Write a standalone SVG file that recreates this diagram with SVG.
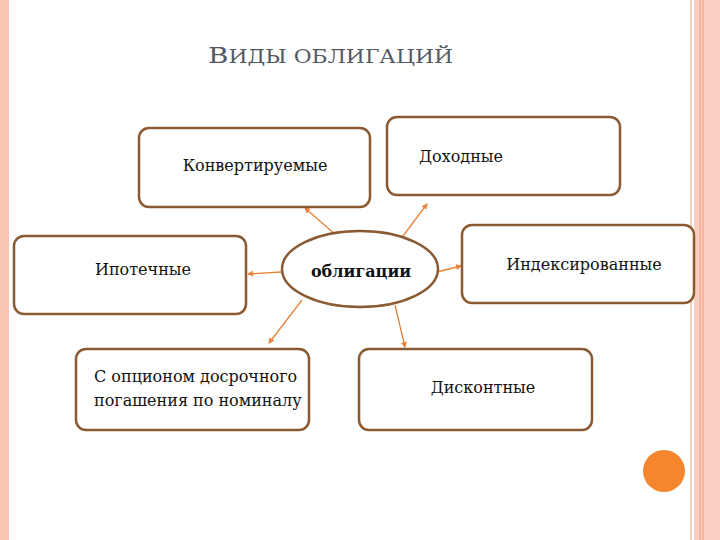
<svg xmlns="http://www.w3.org/2000/svg" width="720" height="540" viewBox="0 0 720 540">
<defs>
<style>
.box{fill:#fff;stroke:#8a5a32;stroke-width:2.5}
.t{font-family:"DejaVu Serif",serif;font-size:16px;fill:#111}
.c{stroke:#e8823a;stroke-width:1.3;fill:none;marker-end:url(#a)}
</style>
<marker id="a" markerWidth="6" markerHeight="6" refX="5" refY="3" orient="auto" markerUnits="userSpaceOnUse"><path d="M0,0L6,3L0,6z" fill="#e8823a"/></marker>
</defs>
<rect width="720" height="540" fill="#fff"/>
<rect x="0" y="0" width="9" height="540" fill="#f8c4b4"/>
<rect x="690" y="0" width="30" height="540" fill="#fbd0c2"/>
<line x1="693" y1="0" x2="693" y2="540" stroke="#fff" stroke-width="2"/>
<line x1="700" y1="0" x2="700" y2="540" stroke="#f39a80" stroke-width="1"/>
<line x1="703" y1="0" x2="703" y2="540" stroke="#f39a80" stroke-width="1"/>
<text x="208" y="63" font-family="DejaVu Serif,serif" font-size="23" fill="#555a62" textLength="245" lengthAdjust="spacingAndGlyphs">В<tspan font-size="18">ИДЫ ОБЛИГАЦИЙ</tspan></text>
<g id="connectors">
<line class="c" x1="337" y1="236" x2="305" y2="208"/>
<line class="c" x1="400" y1="240" x2="427" y2="204"/>
<line class="c" x1="437" y1="272" x2="461" y2="266"/>
<line class="c" x1="281" y1="272" x2="248" y2="274"/>
<line class="c" x1="302" y1="300" x2="269" y2="343"/>
<line class="c" x1="395" y1="305" x2="405" y2="347"/>
</g>
<g id="center"><ellipse cx="360" cy="269" rx="78" ry="38" class="box"/><text class="t" x="361" y="277" text-anchor="middle" font-weight="bold" font-size="17">облигации</text></g>
<g id="konv"><rect class="box" x="139" y="128" width="231" height="79" rx="10"/><text class="t" x="255" y="171" text-anchor="middle">Конвертируемые</text></g>
<g id="dohod"><rect class="box" x="387" y="117" width="233" height="78" rx="10"/><text class="t" x="461" y="162" text-anchor="middle">Доходные</text></g>
<g id="ipot"><rect class="box" x="14" y="236" width="232" height="78" rx="10"/><text class="t" x="143" y="275" text-anchor="middle">Ипотечные</text></g>
<g id="index"><rect class="box" x="462" y="225" width="232" height="78" rx="10"/><text class="t" x="584" y="270" text-anchor="middle">Индексированные</text></g>
<g id="option"><rect class="box" x="76" y="349" width="233" height="81" rx="10"/><text class="t" x="94" y="382">С опционом досрочного</text><text class="t" x="94" y="406">погашения по номиналу</text></g>
<g id="disc"><rect class="box" x="359" y="349" width="233" height="81" rx="10"/><text class="t" x="483" y="393" text-anchor="middle">Дисконтные</text></g>
<circle cx="664" cy="471" r="21" fill="#f5862e"/>
</svg>
